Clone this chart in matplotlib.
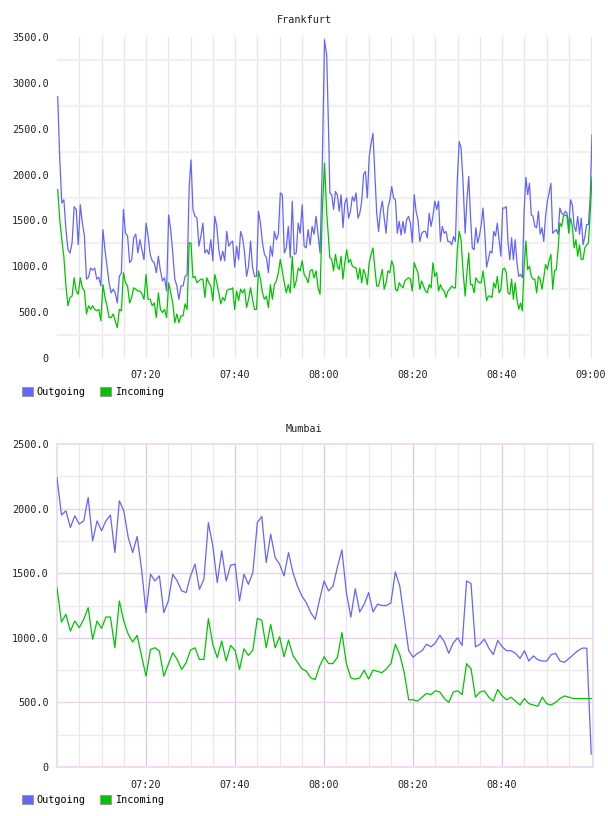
import numpy as np
import matplotlib
matplotlib.use('Agg')
import matplotlib.pyplot as plt
from matplotlib.patches import Patch

# ---------------- Frankfurt (30 s samples, read in five stretches) ----------------
fra_out_a = [2850, 2160, 1690, 1725, 1400, 1180, 1145, 1255, 1650,
             1620, 1235, 1670, 1470, 1330, 860, 880, 980, 960, 980, 860, 880, 785, 1400, 1180,
             1000, 820, 710, 750, 710, 600, 890, 930, 1620, 1360, 1330, 1040, 1070, 1310, 1350,
             1145, 1290, 1180, 1070, 1470, 1330, 1130, 1060, 1040, 930, 1110, 950, 840, 875, 730,
             1560, 1400, 1145, 860, 785, 640, 785, 785, 890, 910, 1870]
fra_in_a = [1835, 1510, 1290, 1100, 785, 570, 660, 675, 875,
            730, 695, 875, 765, 730, 480, 570, 530, 570, 530, 515, 530, 405, 800, 660,
            570, 440, 440, 480, 405, 330, 530, 515, 930, 820, 785, 600, 660, 765, 750,
            730, 730, 700, 640, 910, 640, 640, 570, 600, 440, 710, 530, 495, 530, 440,
            820, 710, 600, 385, 480, 385, 460, 460, 590, 530, 1255]
fra_out_b = [2160, 1620, 1545, 1530, 1220, 1330, 1470, 1145, 1180, 1130, 1290, 1060, 1545, 1435,
             1180, 1060, 1165, 1060, 1380, 1220, 1255, 1275, 990, 1220, 1070, 1380, 1310, 1145,
             890, 1000, 1275, 990, 890, 890, 1600, 1470, 1255, 1130, 1095, 930, 1220, 1110, 1380,
             1290, 1350, 1800, 1780, 1145, 1200, 1435, 1095, 1710, 1130, 1145, 1470, 1360, 1670,
             1220, 1200, 1400, 1235, 1435, 1350, 1545, 1350, 1145]
fra_in_b = [1255, 875, 890, 820, 840, 860, 860, 660, 875, 820, 785, 625, 910, 820, 710, 590, 660,
            625, 730, 750, 750, 765, 530, 730, 625, 750, 710, 750, 550, 640, 765, 640, 530, 530,
            950, 860, 710, 640, 675, 550, 800, 640, 800, 840, 930, 1075, 950, 820, 710, 800, 710,
            1110, 765, 840, 980, 950, 1060, 910, 875, 820, 950, 965, 875, 950, 765, 695]
fra_out_c = [2100, 3470, 3300, 2300]
fra_in_c = [1580, 2125, 1580, 1235]
fra_out_d = [1800, 1780, 1620, 1815, 1780, 1600, 1780, 1420, 1690, 1745, 1525, 1600, 1760, 1710,
             1800, 1525, 1580, 1710, 2000, 2035, 1745, 2195, 2340, 2450, 2020, 1580, 1380, 1600,
             1710, 1525, 1360, 1640, 1725, 1870, 1745, 1725, 1360, 1490, 1340, 1490, 1360, 1510,
             1545, 1470, 1255, 1780, 1600, 1510, 1270, 1360, 1380, 1380, 1310, 1580, 1435, 1545,
             1710, 1620, 1710, 1270, 1435, 1360, 1380, 1270, 1270, 1235, 1325, 1270, 1945, 2360,
             2290, 1945]
fra_in_d = [1095, 1075, 950, 1130, 1000, 965, 1110, 860, 1040, 1180, 1040, 1075, 1000, 990, 980,
            860, 980, 820, 965, 910, 800, 1040, 1130, 1200, 980, 785, 785, 875, 965, 750, 820, 950,
            930, 1060, 1000, 750, 730, 820, 785, 765, 840, 860, 875, 860, 730, 1040, 980, 930, 750,
            840, 785, 730, 710, 800, 765, 1040, 890, 930, 730, 800, 750, 730, 660, 730, 750, 785,
            765, 765, 1180, 1380, 1290, 965]
fra_out_e = [1360, 1725, 1980, 1545, 1200, 1180, 1420, 1255, 1330, 1455, 1635, 1360, 990, 1075,
             1165, 1145, 1380, 1330, 1470, 1290, 1110, 1635, 1635, 1650, 1255, 1070, 1310, 1070,
             1290, 1040, 890, 910, 875, 1600, 1970, 1780, 1905, 1560, 1545, 1435, 1420, 1600, 1350,
             1420, 1270, 1545, 1710, 1800, 1905, 1360, 1380, 1400, 1350, 1635, 1580, 1560, 1600,
             1580, 1435, 1725, 1670, 1435, 1380, 1545, 1350, 1525, 1235, 1325, 1455, 1455, 1760, 2430]
fra_in_e = [675, 930, 1145, 800, 800, 710, 875, 840, 820, 820, 950, 800, 625, 675, 675, 660, 820,
            765, 890, 710, 750, 965, 980, 930, 710, 695, 860, 640, 820, 640, 530, 600, 515, 1000,
            1275, 965, 1000, 890, 860, 860, 710, 890, 860, 750, 875, 1020, 965, 1060, 1130, 750,
            950, 965, 1180, 1470, 1435, 1545, 1560, 1545, 1360, 1525, 1435, 1200, 1290, 1110, 1235,
            1075, 1075, 1200, 1235, 1255, 1580, 1970]
# start / end of each stretch, minutes after 07:00
fra_stretch_minutes = [(0.16, 29.7), (30.1, 59.1), (59.6, 61.1), (61.3, 91.2), (91.7, 120.2)]

# ---------------- Mumbai (1 min samples, 07:00 .. 09:00) ----------------
mum_out = [2240, 1950, 1983, 1854, 1944, 1880, 1905, 2086, 1750, 1905, 1828, 1905, 1950, 1660,
           2060, 1983, 1776, 1660, 1784, 1530, 1195, 1492, 1440, 1479, 1195, 1285, 1492, 1440,
           1363, 1350, 1479, 1570, 1375, 1453, 1892, 1712, 1427, 1673, 1440, 1562, 1570, 1285,
           1492, 1414, 1505, 1892, 1939, 1582, 1802, 1621, 1570, 1479, 1660, 1505, 1401, 1324,
           1272, 1195, 1143, 1298, 1440, 1363,
           1400, 1550, 1680, 1350, 1160, 1380, 1200, 1260, 1350, 1200, 1260, 1250, 1250, 1270,
           1510, 1400, 1150, 900, 850, 880, 900, 950, 930, 960, 1020, 970, 880, 960, 1000, 940,
           1440, 1420, 930, 950, 990, 920, 870, 980, 930, 900, 900, 880, 840, 900, 820, 860, 830,
           820, 820, 870, 880, 820, 810, 840, 870, 900, 920, 920, 100]
mum_in = [1388, 1122, 1182, 1052, 1130, 1078, 1143, 1233, 988, 1130, 1073, 1161, 1161, 923, 1285,
          1130, 1027, 967, 1019, 859, 703, 910, 923, 897, 703, 794, 884, 833, 755, 807, 905, 923,
          833, 833, 1148, 949, 846, 975, 820, 941, 902, 755, 915, 864, 905, 1151, 1135, 923, 1104,
          923, 1008, 853, 983, 864, 812, 760, 742, 690, 677, 781, 853, 801,
          800, 850, 1040, 800, 690, 680, 690, 750, 680, 750, 740, 730, 760, 800, 950, 870, 730,
          520, 520, 510, 540, 570, 560, 590, 580, 530, 500, 580, 590, 560, 800, 760, 540, 580,
          590, 540, 510, 600, 550, 520, 540, 510, 480, 530, 490, 480, 470, 540, 490, 480, 500,
          530, 550, 540, 530, 530, 530, 530, 530]

fra_tick_minutes = [20, 40, 60, 80, 100, 120]
fra_tick_labels = ['07:20', '07:40', '08:00', '08:20', '08:40', '09:00']
mum_tick_minutes = [20, 40, 60, 80, 100]
mum_tick_labels = ['07:20', '07:40', '08:00', '08:20', '08:40']
series_names = ['Outgoing', 'Incoming']

BLUE = '#6464ff'
GREEN = '#00c400'
FONT = 'DejaVu Sans Mono'
FS = 7.3

fra_out = fra_out_a + fra_out_b + fra_out_c + fra_out_d + fra_out_e
fra_in = fra_in_a + fra_in_b + fra_in_c + fra_in_d + fra_in_e
fra_t = np.concatenate([np.linspace(a, b, n) for (a, b), n in
                        zip(fra_stretch_minutes, [len(fra_out_a), len(fra_out_b), len(fra_out_c),
                                                  len(fra_out_d), len(fra_out_e)])])
mum_t = np.arange(len(mum_out))

W, H = 608, 816
fig = plt.figure(figsize=(W / 100, H / 100), dpi=100)


def fx(px):
    return px / W


def fy(py):
    return 1 - py / H


ax1 = fig.add_axes([fx(57), fy(358), fx(592) - fx(57), fy(37) - fy(358)])
ax2 = fig.add_axes([fx(57), fy(767), fx(593) - fx(57), fy(444) - fy(767)])

# --- top chart grid ---
for m in range(5, 121, 5):
    ax1.axvline(m, color='#e6e6e6', lw=0.9, zorder=0)
for v in range(250, 3500, 500):
    ax1.axhline(v, color='#f0f0f0', lw=1.6, zorder=0)
ax1.plot(fra_t, fra_out, color=BLUE, lw=0.9, zorder=3)
ax1.plot(fra_t, fra_in, color=GREEN, lw=0.9, zorder=3)
ax1.set_xlim(0, 120.2)
ax1.set_ylim(0, 3500)
yt1 = list(range(0, 3501, 500))
ax1.set_yticks(yt1)
ax1.set_yticklabels(['0' if v == 0 else f'{v:.1f}' for v in yt1])
ax1.set_xticks(fra_tick_minutes)
ax1.set_xticklabels(fra_tick_labels)
for s in ax1.spines.values():
    s.set_visible(False)

# --- bottom chart grid ---
for m in range(5, 120, 5):
    major = m % 20 == 0
    ax2.axvline(m, color='#dcc8dc' if major else '#e8e8e8', lw=0.9, zorder=0)
for v in range(250, 2500, 250):
    major = v % 500 == 0
    ax2.axhline(v, color='#e8d4e8' if major else '#ebebeb', lw=1.0, zorder=0)
ax2.plot(mum_t, mum_out, color=BLUE, lw=0.9, zorder=3)
ax2.plot(mum_t, mum_in, color=GREEN, lw=0.9, zorder=3)
ax2.set_xlim(0, 120.4)
ax2.set_ylim(0, 2500)
yt2 = list(range(0, 2501, 500))
ax2.set_yticks(yt2)
ax2.set_yticklabels(['0' if v == 0 else f'{v:.1f}' for v in yt2])
ax2.set_xticks(mum_tick_minutes)
ax2.set_xticklabels(mum_tick_labels)
for s in ax2.spines.values():
    s.set_color('#f0dcf0')
    s.set_linewidth(1.4)

for ax in (ax1, ax2):
    ax.tick_params(length=0, labelsize=FS, colors='#222222', pad=9)
    ax.tick_params(axis='y', pad=6)
    for lab in ax.get_xticklabels() + ax.get_yticklabels():
        lab.set_family(FONT)

fig.text(0.5, fy(20), 'Frankfurt', ha='center', va='center', fontsize=FS,
         family=FONT, color='#222222')
fig.text(0.5, fy(429), 'Mumbai', ha='center', va='center', fontsize=FS,
         family=FONT, color='#222222')

handles = [Patch(facecolor=BLUE, edgecolor='#999999', lw=0.8),
           Patch(facecolor=GREEN, edgecolor='#999999', lw=0.8)]
for ly in (392, 800):
    fig.legend(handles, series_names, loc='center left', bbox_to_anchor=(fx(22), fy(ly)),
               ncol=2, frameon=False, handlelength=1.05, handleheight=1.05,
               handletextpad=0.35, columnspacing=1.5, borderpad=0, borderaxespad=0,
               prop={'family': FONT, 'size': FS})

fig.savefig('out.png', dpi=100)
